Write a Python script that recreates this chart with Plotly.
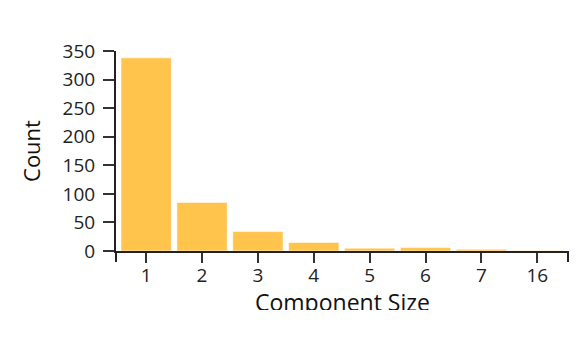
import plotly.graph_objects as go

categories = ["1", "2", "3", "4", "5", "6", "7", "16"]
counts = [338, 85, 34, 15, 5, 6, 3, 1]
y_ticks = [0, 50, 100, 150, 200, 250, 300, 350]
x_title = "Component Size"
y_title = "Count"

FONT = "Open Sans"
AXIS = "#222222"

fig = go.Figure(
    go.Bar(
        x=categories,
        y=counts,
        marker=dict(color="#ffc44c", line=dict(color="rgba(255,255,255,0.55)", width=1)),
        hoverinfo="skip",
    )
)

fig.update_layout(
    width=586,
    height=310,
    margin=dict(l=116, r=18, t=51, b=59),
    paper_bgcolor="white",
    plot_bgcolor="white",
    bargap=0.1,
    showlegend=False,
    font=dict(family=FONT, color=AXIS, size=19),
)

fig.update_xaxes(
    type="category",
    range=[-0.54, 7.55],
    automargin=False,
    showline=True,
    linecolor=AXIS,
    linewidth=2,
    ticks="outside",
    ticklen=10,
    tickwidth=2,
    tickcolor="#333333",
    showgrid=False,
    zeroline=False,
    tickfont=dict(family=FONT, size=19, color=AXIS),
    ticklabelstandoff=-4,
)

fig.update_yaxes(
    range=[0, 350],
    tickvals=y_ticks,
    automargin=False,
    showline=True,
    linecolor=AXIS,
    linewidth=2,
    ticks="outside",
    ticklen=11,
    tickwidth=2,
    tickcolor="#333333",
    showgrid=False,
    zeroline=False,
    tickfont=dict(family=FONT, size=19, color=AXIS),
    ticklabelstandoff=4,
    title=dict(text=y_title, font=dict(family=FONT, size=22, color="#111111"), standoff=16),
)

# x-axis title, sitting at the bottom edge of the figure (clipped like the reference)
fig.add_annotation(
    text=x_title, xref="paper", yref="paper", x=0.5, y=0,
    xanchor="center", yanchor="middle", yshift=-51, showarrow=False,
    font=dict(family=FONT, size=23, color="#111111"),
)

# d3-style outer ticks at the ends of the x axis domain
for xp in (0, 1):
    fig.add_shape(
        type="line", xref="paper", yref="paper", ysizemode="pixel", yanchor=0,
        x0=xp, x1=xp, y0=0, y1=-11,
        line=dict(color=AXIS, width=2),
    )

fig.write_html("out.html")
